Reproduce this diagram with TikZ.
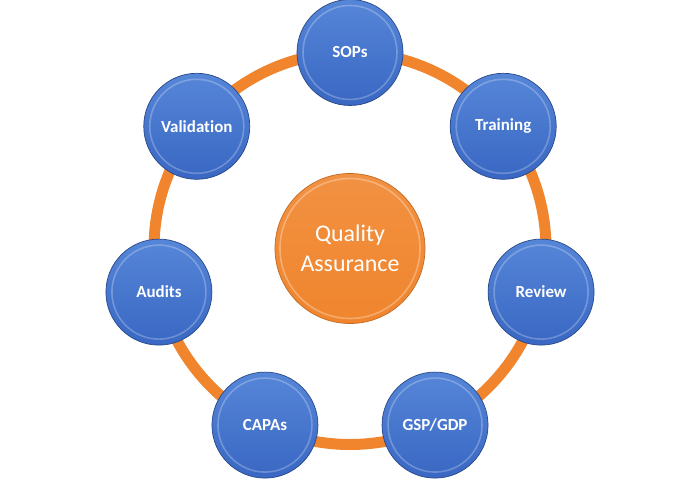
\documentclass[tikz,border=0pt]{standalone}
\usepackage{fontspec}
\setmainfont[Ligatures=NoCommon]{Carlito}
\definecolor{qaorange}{HTML}{F0852D}
\definecolor{qatop}{HTML}{5686D8}
\definecolor{qabottom}{HTML}{3967C3}
\tikzset{
  topic/.style={circle, minimum size=106bp, inner sep=0pt,
    top color=qatop, bottom color=qabottom,
    draw=qabottom!70!black, line width=0.7bp, text=white,
    font=\bfseries\fontsize{17}{20}\selectfont,
    path picture={\draw[white, opacity=0.25, line width=1.6bp]
      (path picture bounding box.center) circle (47);}},
  hub/.style={circle, minimum size=150bp, inner sep=0pt, align=center,
    top color=qaorange!90!white, bottom color=qaorange,
    draw=qaorange!80!black, line width=0.7bp, text=white,
    font=\fontsize{24}{30}\selectfont,
    path picture={\draw[white, opacity=0.3, line width=1.6bp]
      (path picture bounding box.center) circle (70);}},
  ring/.style={draw=qaorange, line width=11bp}
}

\begin{document}
\begin{tikzpicture}[x=1bp, y=1bp]
 \useasboundingbox (-350,-232.5) rectangle (350,248.5);
 \node[hub] (qa) at (0,0) {Quality\\Assurance};
 \draw[ring] (qa.center) circle (196);
 \foreach \name/\txt [count=\i] in
  {
    sops/SOPs, training/Training, review/Review, gsp/{GSP/GDP},
    capas/CAPAs, audits/Audits, validation/Validation
  }
  {
    \pgfmathsetmacro{\a}{90-(\i-1)*360/7}
    \node[topic] (\name) at (\a:196) {\txt};
  }
\end{tikzpicture}
\end{document}
